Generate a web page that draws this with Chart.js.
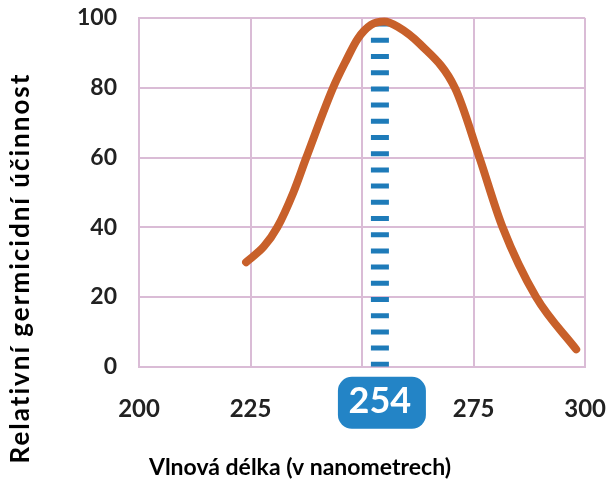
<!DOCTYPE html>
<html>
<head>
<meta charset="utf-8">
<script src="https://cdn.jsdelivr.net/npm/chart.js@4.4.1/dist/chart.umd.min.js"></script>
<style>
  html, body { margin: 0; padding: 0; background: #fff; }
  #wrap { width: 606px; height: 495px; }
</style>
</head>
<body>
<div id="wrap"><canvas id="graf"></canvas></div>
<script>
// data
var vlnoveDelky = [224, 228, 231, 234.6, 237.5, 243.5, 246.5, 249, 252, 255, 258, 263, 270.8, 276.3, 281.5, 289, 298];
var ucinnost = [30, 34.5, 40, 50, 60, 80, 88, 94, 98, 99, 97.5, 92.5, 80, 60, 40, 20, 5];
var vrcholNm = 254;
var xTicky = [200, 225, 250, 254, 275, 300];
var yTicky = [0, 20, 40, 60, 80, 100];
var nazevX = 'Vlnová délka (v nanometrech)';
var nazevY = 'Relativní germicidní účinnost';

var barvaMrizky = 'rgb(218, 188, 214)';
var pismo = 'Lato';
var nic = 'rgba(0,0,0,0)';

// modry stitek pod 254 + popisky os
const popisky = {
    id: 'popisky',
    beforeDraw(chart) {
        const ctx = chart.ctx;
        const sx = chart.scales.x;
        const cx = sx.getPixelForValue(vrcholNm);
        const cy = sx.top + sx.options.grid.tickLength + 1;
        ctx.save();
        ctx.fillStyle = '#2384c6';
        ctx.beginPath();
        ctx.roundRect(cx - 42, cy - 26, 88, 52, 14);
        ctx.fill();
        ctx.restore();
    },
    afterDraw(chart) {
        const ctx = chart.ctx;
        ctx.save();
        ctx.fillStyle = '#000';
        ctx.textAlign = 'center';
        ctx.textBaseline = 'middle';
        ctx.font = 'bold 23px ' + pismo;
        ctx.fillText(nazevX, 300, 468);
        ctx.translate(21, 268);
        ctx.rotate(-Math.PI / 2);
        ctx.font = 'bold 26px ' + pismo;
        ctx.letterSpacing = '2px';
        ctx.fillText(nazevY, 0, 0);
        ctx.restore();
    }
};

const data = {
    datasets: [{
        label: 'ucinnost',
        data: vlnoveDelky.map((x, i) => ({ x: x, y: ucinnost[i] })),
        borderColor: '#c8602a',
        borderWidth: 8,
        borderCapStyle: 'round',
        pointRadius: 0,
        cubicInterpolationMode: 'monotone',
        clip: false
    }, {
        label: '254 nm',
        data: [{ x: vrcholNm, y: 0 }, { x: vrcholNm, y: 100 }],
        borderColor: '#1e7bb9',
        borderWidth: 18,
        borderDash: [5, 11.2],
        borderCapStyle: 'butt',
        pointRadius: 0
    }]
};

const config = {
    type: 'line',
    data: data,
    options: {
        responsive: true,
        maintainAspectRatio: false,
        animation: false,
        layout: { padding: { left: 77, top: 18, right: 0, bottom: 50 } },
        plugins: {
            legend: { display: false },
            tooltip: { enabled: false }
        },
        scales: {
            x: {
                type: 'linear',
                min: 200,
                max: 300,
                afterBuildTicks: (s) => { s.ticks = xTicky.map(v => ({ value: v })); },
                grid: {
                    color: (c) => (c.tick && c.tick.value === vrcholNm) ? nic : barvaMrizky,
                    lineWidth: 2,
                    drawTicks: true,
                    tickLength: 35,
                    tickColor: nic
                },
                border: { color: barvaMrizky, width: 2 },
                ticks: {
                    padding: 0,
                    crossAlign: 'center',
                    maxRotation: 0,
                    autoSkip: false,
                    color: (c) => (c.tick && c.tick.value === vrcholNm) ? '#ffffff' : '#222222',
                    font: (c) => ({
                        family: pismo,
                        weight: 'bold',
                        size: (c.tick && c.tick.value === vrcholNm) ? 36 : 24
                    }),
                    callback: (v) => v === 250 ? '' : String(v)
                }
            },
            y: {
                min: 0,
                max: 100,
                afterBuildTicks: (s) => { s.ticks = yTicky.map(v => ({ value: v })); },
                grid: {
                    color: barvaMrizky,
                    lineWidth: 2,
                    drawTicks: true,
                    tickLength: 22,
                    tickColor: nic
                },
                border: { color: barvaMrizky, width: 2 },
                ticks: {
                    padding: 0,
                    color: '#222222',
                    font: { family: pismo, weight: 'bold', size: 23 }
                }
            }
        }
    },
    plugins: [popisky]
};

const myChart = new Chart(document.getElementById('graf'), config);
</script>
</body>
</html>
